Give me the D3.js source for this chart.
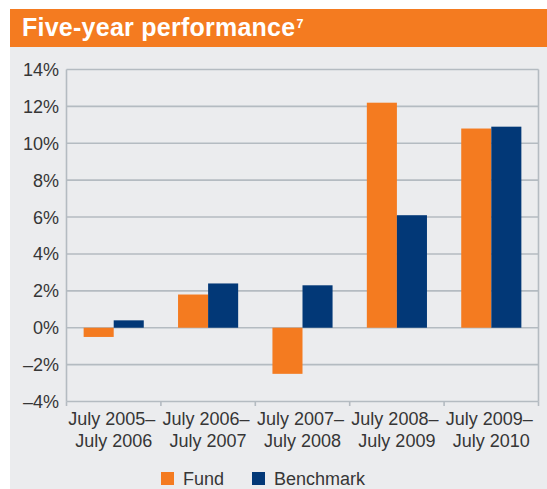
<!DOCTYPE html>
<html>
<head>
<meta charset="utf-8">
<script src="https://cdn.jsdelivr.net/npm/d3@7"></script>
<style>
  html, body { margin: 0; padding: 0; background: #fff; }
  svg { display: block; font-family: "Liberation Sans", Arial, Helvetica, sans-serif; }
</style>
</head>
<body>
<div id="chart"></div>
<script>
// data
const periods = [
    ["July 2005\u2013", "July 2006"],
    ["July 2006\u2013", "July 2007"],
    ["July 2007\u2013", "July 2008"],
    ["July 2008\u2013", "July 2009"],
    ["July 2009\u2013", "July 2010"]
];
const fund = [-0.5, 1.8, -2.5, 12.2, 10.8];
const benchmark = [0.4, 2.4, 2.3, 6.1, 10.9];
const seriesNames = ["Fund", "Benchmark"];
const yTicks = [-4, -2, 0, 2, 4, 6, 8, 10, 12, 14];

const colors = {Fund: "#f47b20", Benchmark: "#023877"};
const gridColor = "#b4bbc1";
const textColor = "#363636";

const width = 547, height = 489;
const plot = {left: 66.5, right: 538.5, top: 69.5, bottom: 401.5};

const svg = d3.select("#chart").append("svg")
    .attr("width", width)
    .attr("height", height);

// panel + header
svg.append("rect")
    .attr("x", 10).attr("y", 47)
    .attr("width", width - 10).attr("height", height - 47)
    .attr("fill", "#ebecee");

svg.append("rect")
    .attr("x", 10).attr("y", 9)
    .attr("width", width - 10).attr("height", 38)
    .attr("fill", "#f47b20");

const title = svg.append("text")
    .attr("x", 22).attr("y", 36)
    .attr("fill", "#fff")
    .attr("font-size", 25)
    .attr("font-weight", "bold")
    .attr("letter-spacing", 0.25)
    .text("Five-year performance");
title.append("tspan")
    .attr("font-size", 12.5)
    .attr("dx", 1)
    .attr("dy", -8.5)
    .text("7");

const rows = periods.map((p, i) => ({
    key: p.join(" "),
    label: p,
    values: [
        {name: "Fund", value: fund[i]},
        {name: "Benchmark", value: benchmark[i]}
    ]
}));

const x = d3.scaleBand()
    .domain(rows.map(d => d.key))
    .range([plot.left, plot.right])
    .padding(0);

const xSub = d3.scaleBand()
    .domain(seriesNames)
    .range([0, x.bandwidth()])
    .paddingInner(0)
    .paddingOuter(0.57);

const y = d3.scaleLinear()
    .domain([-4, 14])
    .range([plot.bottom, plot.top]);

// gridlines
svg.append("g")
    .selectAll("line")
    .data(yTicks)
    .join("line")
    .attr("x1", plot.left).attr("x2", plot.right)
    .attr("y1", d => y(d)).attr("y2", d => y(d))
    .attr("stroke", gridColor)
    .attr("stroke-width", 1.6);

// y labels
svg.append("g")
    .selectAll("text")
    .data(yTicks)
    .join("text")
    .attr("x", 59)
    .attr("y", d => y(d) + 6.5)
    .attr("text-anchor", "end")
    .attr("font-size", 18)
    .attr("fill", textColor)
    .text(d => (d < 0 ? "\u2013" + Math.abs(d) : d) + "%");

// bars
const groups = svg.append("g")
    .selectAll("g")
    .data(rows)
    .join("g")
    .attr("transform", d => "translate(" + x(d.key) + ",0)");

groups.selectAll("rect")
    .data(d => d.values)
    .join("rect")
    .attr("x", d => xSub(d.name))
    .attr("width", xSub.bandwidth())
    .attr("y", d => y(Math.max(0, d.value)))
    .attr("height", d => Math.abs(y(d.value) - y(0)))
    .attr("fill", d => colors[d.name]);

// frame + x ticks
const boundaries = rows.map(d => x(d.key)).concat([plot.right]);
svg.append("g")
    .selectAll("line")
    .data(boundaries)
    .join("line")
    .attr("x1", d => d).attr("x2", d => d)
    .attr("y1", plot.bottom).attr("y2", plot.bottom + 4.5)
    .attr("stroke", gridColor)
    .attr("stroke-width", 1.6);

svg.append("line")
    .attr("x1", plot.left).attr("x2", plot.left)
    .attr("y1", plot.top).attr("y2", plot.bottom)
    .attr("stroke", gridColor).attr("stroke-width", 1.6);
svg.append("line")
    .attr("x1", plot.right).attr("x2", plot.right)
    .attr("y1", plot.top).attr("y2", plot.bottom)
    .attr("stroke", gridColor).attr("stroke-width", 1.6);

// x labels
const xLabels = svg.append("g")
    .selectAll("text")
    .data(rows)
    .join("text")
    .attr("x", d => x(d.key) + x.bandwidth() / 2)
    .attr("y", 425)
    .attr("text-anchor", "middle")
    .attr("font-size", 18)
    .attr("fill", textColor);
xLabels.append("tspan").attr("x", d => x(d.key) + x.bandwidth() / 2 - 2).text(d => d.label[0]);
xLabels.append("tspan").attr("x", d => x(d.key) + x.bandwidth() / 2).attr("dy", 22).text(d => d.label[1]);

// legend
const legendPos = [161, 252];
const legend = svg.append("g")
    .selectAll("g")
    .data(seriesNames)
    .join("g")
    .attr("transform", (d, i) => "translate(" + legendPos[i] + ",472)");
legend.append("rect")
    .attr("width", 13).attr("height", 13)
    .attr("fill", d => colors[d]);
legend.append("text")
    .attr("x", 22).attr("y", 13)
    .attr("font-size", 18)
    .attr("fill", textColor)
    .text(d => d);
</script>
</body>
</html>
